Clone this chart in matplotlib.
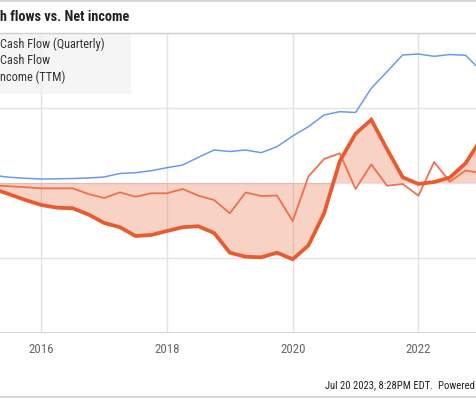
import matplotlib
matplotlib.use("Agg")
import matplotlib.pyplot as plt
from matplotlib import font_manager
from matplotlib.patches import Rectangle

# ---------------- data ----------------
quarters = [2015.25, 2015.5, 2015.75, 2016.0, 2016.25, 2016.5, 2016.75, 2017.0,
            2017.25, 2017.5, 2017.75, 2018.0, 2018.25, 2018.5, 2018.75, 2019.0,
            2019.25, 2019.5, 2019.75, 2020.0, 2020.25, 2020.5, 2020.75, 2021.0,
            2021.25, 2021.5, 2021.75, 2022.0, 2022.25, 2022.5, 2022.75, 2023.0]

blue_series = [0.100, 0.076, 0.063, 0.053, 0.056, 0.060, 0.067, 0.080,
               0.127, 0.137, 0.164, 0.204, 0.240, 0.343, 0.440, 0.420,
               0.440, 0.404, 0.484, 0.627, 0.751, 0.907, 0.951, 0.940,
               1.263, 1.484, 1.707, 1.720, 1.689, 1.713, 1.703, 1.493]

thin_series = [-0.031, -0.044, -0.056, -0.071, -0.071, -0.071, -0.147, -0.200,
               -0.124, -0.183, -0.137, -0.137, -0.080, -0.169, -0.227, -0.404,
               -0.127, -0.173, -0.167, -0.507, 0.087, 0.320, 0.396, -0.080,
               0.249, -0.036, -0.013, -0.169, 0.280, 0.017, 0.167, 0.133]

net_income_ttm = [-0.080, -0.153, -0.227, -0.293, -0.329, -0.337, -0.420, -0.533,
                  -0.589, -0.707, -0.693, -0.640, -0.589, -0.577, -0.667, -0.929,
                  -0.983, -0.991, -0.929, -1.017, -0.833, -0.404, 0.293, 0.657,
                  0.844, 0.453, 0.076, -0.013, 0.013, 0.073, 0.263, 0.587]

legend_labels = ["Cash Flow (Quarterly)", "Cash Flow", "ncome (TTM)"]
title_text = "h flows vs. Net income"
footer_text = "Jul 20 2023, 8:28PM EDT.  Powered"
xtick_years = [2016, 2018, 2020, 2022]
ytick_vals = [-2, -1, 0, 1, 2]

# ---------------- fonts ----------------
names = {f.name for f in font_manager.fontManager.ttflist}
cond = "Roboto Condensed" if "Roboto Condensed" in names else (
    "Liberation Sans Narrow" if "Liberation Sans Narrow" in names else "Roboto")
plt.rcParams['font.family'] = [cond, 'DejaVu Sans']

W, H = 477, 398
fig = plt.figure(figsize=(W / 100, H / 100), dpi=100)
fig.patch.set_facecolor("white")

def fx(px):
    return px / W

def fy(py):
    return 1 - py / H

# axes geometry: x pixel 41.3 = 2016, 62.85 px per year; y 33..333
px_per_year = 62.85
x_left = 2016 - 41.3 / px_per_year
x_right = 2016 + (W - 41.3) / px_per_year
ax = fig.add_axes([0, fy(333), 1, (333 - 33) / H])
ax.set_xlim(x_left, x_right)
ax.set_ylim(-2, 2)

grid_c = "#e3e3e3"
for yv in ytick_vals:
    ax.axhline(yv, color=grid_c, lw=1.0, zorder=1)
for xv in xtick_years:
    ax.axvline(xv, color=grid_c, lw=1.0, zorder=1)
ax.axhline(-2, color="#cccccc", lw=1.2, zorder=2)

orange = "#ea5a2f"
thin_orange = "#f0704c"
blue = "#6b9be8"

ax.fill_between(quarters, net_income_ttm, 0, color=orange, alpha=0.27, lw=0, zorder=2)
ax.plot(quarters, blue_series, color=blue, lw=1.1, zorder=3)
ax.plot(quarters, thin_series, color=thin_orange, lw=1.3, zorder=4)
ax.plot(quarters, net_income_ttm, color=orange, lw=2.7, zorder=5,
        solid_joinstyle="miter")

for s in ax.spines.values():
    s.set_visible(False)
ax.set_yticks([])
ax.set_xticks(xtick_years)
ax.set_xticklabels([str(y) for y in xtick_years], color="#666666", fontsize=9.3)
ax.tick_params(axis="x", length=0, pad=7)

# legend box (semi-transparent so gridlines show through)
ax.add_patch(Rectangle((fx(0), fy(94.3)), fx(130.7), (94.3 - 33) / H,
                       transform=fig.transFigure, facecolor="#f2f2f2",
                       alpha=0.75, edgecolor="none", zorder=2))
for lab, ly in zip(legend_labels, [44, 60.5, 77]):
    fig.text(fx(0), fy(ly), lab, fontsize=8.8, color="#333333",
             ha="left", va="center")

# title + rules
fig.text(fx(0), fy(17), title_text, fontsize=10.3, fontweight="bold",
         color="#222222", ha="left", va="center")
fig.add_artist(plt.Line2D([0, 1], [fy(1), fy(1)], transform=fig.transFigure,
                          color="#d0d0d0", lw=1.2))
fig.add_artist(plt.Line2D([0, 1], [fy(32.5), fy(32.5)], transform=fig.transFigure,
                          color="#d0d0d0", lw=1.0))
fig.add_artist(plt.Line2D([0, 1], [fy(397), fy(397)], transform=fig.transFigure,
                          color="#d0d0d0", lw=1.2))

fig.text(fx(325), fy(385), footer_text, fontsize=7.7, color="#222222",
         ha="left", va="center")

fig.savefig("out.png", dpi=100)
